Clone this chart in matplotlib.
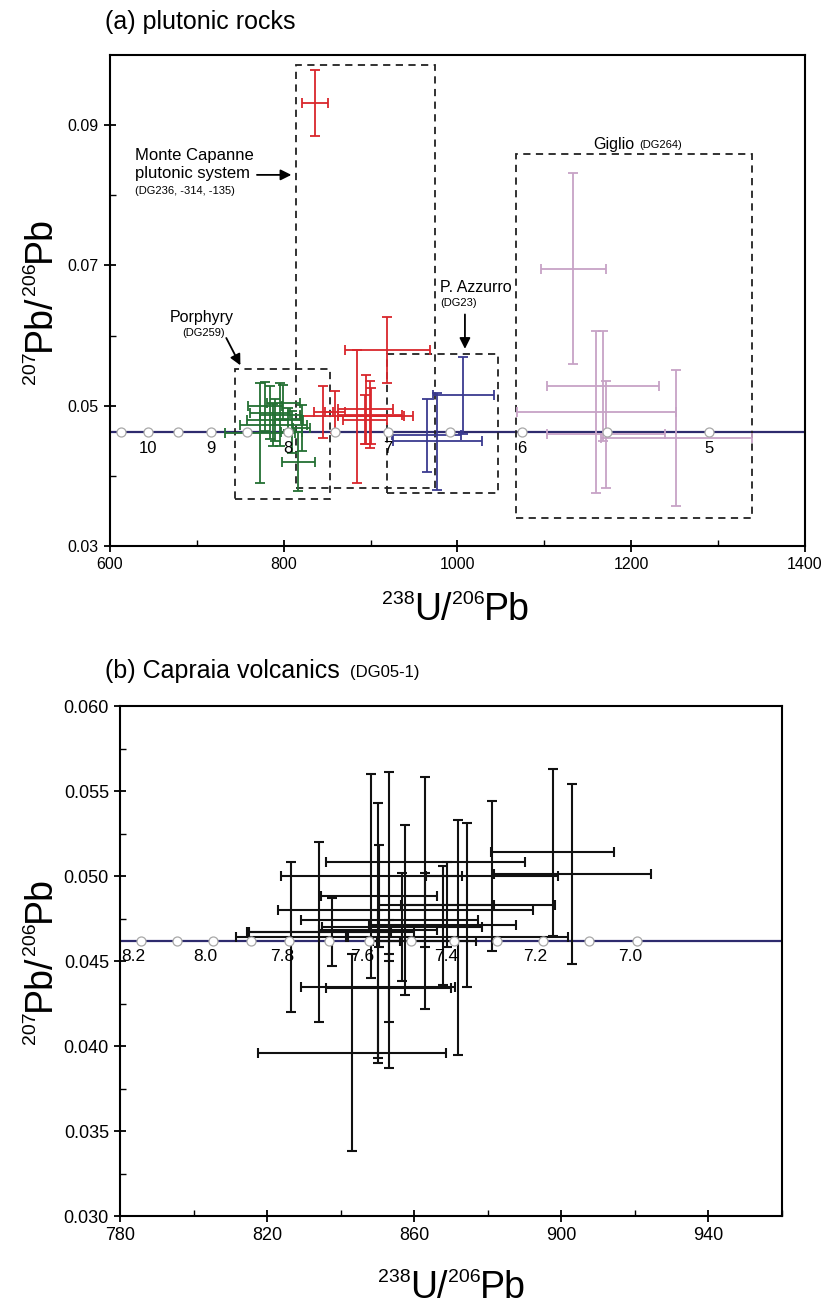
import matplotlib
matplotlib.use('Agg')
import matplotlib.pyplot as plt
from matplotlib.patches import Rectangle
from matplotlib.ticker import MultipleLocator, FixedLocator, FormatStrFormatter

plt.rcParams['font.family'] = ['Liberation Sans', 'DejaVu Sans']

# ---------------- datos panel (a) ----------------
red_x = [836.4, 884.0, 919.4, 845.5, 859.0, 894.4, 899.3, 893.5, 900.8]
red_xe = [15.0, 65.0, 48.9, 11.0, 12.0, 31.6, 37.0, 25.0, 37.9]
red_y = [0.0932, 0.0485, 0.0579, 0.0491, 0.0491, 0.0495, 0.0487, 0.0480, 0.0485]
red_ye = [0.0047, 0.0095, 0.0047, 0.0037, 0.0030, 0.0049, 0.0048, 0.0035, 0.0040]

green_x = [772.7, 778.4, 784.2, 789.9, 795.7, 799.5, 788.0, 805.3, 809.1, 816.8, 820.6]
green_xe = [40.3, 20.0, 23.0, 32.6, 23.0, 19.0, 38.4, 15.0, 12.0, 19.2, 10.0]
green_y = [0.0461, 0.0499, 0.0490, 0.0480, 0.0487, 0.0504, 0.0473, 0.0481, 0.0462, 0.0420, 0.0468]
green_ye = [0.0071, 0.0035, 0.0038, 0.0030, 0.0045, 0.0025, 0.0030, 0.0015, 0.0030, 0.0042, 0.0033]

blue_x = [1006.8, 964.5, 977.0]
blue_xe = [35.3, 40.0, 51.0]
blue_y = [0.0515, 0.0458, 0.0449]
blue_ye = [0.0055, 0.0052, 0.0069]

giglio_x = [1133.5, 1159.6, 1170.8, 1167.5, 1252.0]
giglio_xe = [37.4, 91.5, 68.0, 64.8, 86.8]
giglio_y = [0.0695, 0.0491, 0.0459, 0.0528, 0.0454]
giglio_ye = [0.0136, 0.0116, 0.0076, 0.0079, 0.0097]

# cajas punteadas (x0, x1, y0, y1)
box_mc = [814, 974, 0.0382, 0.0986]
box_porph = [744, 853, 0.0367, 0.0552]
box_azz = [918.5, 1047, 0.0376, 0.0574]
box_giglio = [1067, 1339.5, 0.0340, 0.0859]

# concordia (edades cada 0.5 Ma, 10.5 -> 5)
conc_y = 0.0462
conc_a_x = [613, 644, 678, 716, 758, 805, 859, 920, 991, 1074, 1172, 1289]
conc_a_lab = ['', '10', '', '9', '', '8', '', '7', '', '6', '', '5']

# ---------------- datos panel (b) ----------------
b_x = [826.4, 834.1, 848.3, 853.2, 850.1, 843.0, 857.6, 862.8, 856.6, 850.2, 867.7,
       871.9, 863.0, 874.3, 881.2, 897.6, 903.0, 850.4, 837.5, 853.0, 869.0, 853.0]
b_xe = [15.0, 19.5, 24.6, 24.0, 16.0, 25.6, 34.7, 14.0, 21.7, 21.0, 20.0,
        30.0, 27.0, 24.0, 18.0, 16.8, 21.4, 15.7, 22.5, 3.0, 12.6, 17.0]
b_y = [0.0464, 0.0467, 0.0500, 0.0474, 0.0468, 0.0396, 0.0480, 0.0462, 0.0470, 0.0435, 0.0471,
       0.0464, 0.0508, 0.0483, 0.0500, 0.0514, 0.0501, 0.0488, 0.0467, 0.0462, 0.0483, 0.0434]
b_ye = [0.0044, 0.0053, 0.0060, 0.0087, 0.0075, 0.0058, 0.0050, 0.0040, 0.0032, 0.0045, 0.0035,
        0.0069, 0.0050, 0.0048, 0.0044, 0.0049, 0.0053, 0.0030, 0.0020, 0.0012, 0.0025, 0.0020]

conc_b_x = [785.6, 795.4, 805.2, 815.5, 826.0, 836.8, 847.8, 859.1, 870.7, 882.6, 894.9, 907.5, 920.5]
conc_b_lab = ['8.2', '', '8.0', '', '7.8', '', '7.6', '', '7.4', '', '7.2', '', '7.0']

line_col = '#2e2b6e'
FW, FH = 825, 1308
BIG, SUP = 27, 14
xlab_parts = [('238', True), ('U/', False), ('206', True), ('Pb', False)]
ylab_parts = [('207', True), ('Pb/', False), ('206', True), ('Pb', False)]


def etiqueta(fig, cx, cy_top, parts, rot):
    # etiqueta con superindices pequeños, centrada en (cx, cy_top) en pixeles
    r = fig.canvas.get_renderer()
    ws = []
    for txt, sup in parts:
        t = fig.text(0, 0, txt, fontsize=SUP if sup else BIG)
        ws.append(t.get_window_extent(r).width)
        t.remove()
    big_px = BIG * 100 / 72.0
    cy = FH - cy_top
    if rot == 0:
        d, n = (1, 0), (0, 1)
    else:
        d, n = (0, 1), (-1, 0)
    pos = -sum(ws) / 2
    for (txt, sup), w in zip(parts, ws):
        off = -0.36 * big_px + (0.4 * big_px if sup else 0)
        px = cx + d[0] * pos + n[0] * off
        py = cy + d[1] * pos + n[1] * off
        fig.text(px / FW, py / FH, txt, fontsize=SUP if sup else BIG, rotation=rot,
                 rotation_mode='anchor', ha='left', va='baseline')
        pos += w


def estilo_ejes(ax, lsize):
    for s in ax.spines.values():
        s.set_linewidth(1.5)
    ax.tick_params(which='major', direction='inout', length=9, width=1.3, labelsize=lsize)
    ax.tick_params(which='minor', direction='in', length=4, width=1.0)


def concordia(ax, xs, labs, off, fsize):
    ax.axhline(conc_y, color=line_col, lw=1.6, zorder=1)
    ax.plot(xs, [conc_y] * len(xs), 'o', ms=6.5, mfc='white', mec='#a8a8a8', mew=0.9, zorder=4)
    for x, t in zip(xs, labs):
        if t:
            ax.annotate(t, (x, conc_y), xytext=off, textcoords='offset points',
                        ha='center', va='top', fontsize=fsize, zorder=5)


def caja(ax, b):
    ax.add_patch(Rectangle((b[0], b[2]), b[1] - b[0], b[3] - b[2], fill=False,
                           ec='#222222', lw=1.3, ls=(0, (4, 3)), zorder=2))


fig = plt.figure(figsize=(8.25, 13.08), dpi=100)

# ---------------- panel (a) ----------------
ax1 = fig.add_axes([0.1333, 0.5826, 0.8424, 0.3754])
ax1.set_xlim(600, 1400)
ax1.set_ylim(0.03, 0.10)
ax1.xaxis.set_major_locator(MultipleLocator(200))
ax1.xaxis.set_minor_locator(MultipleLocator(100))
ax1.yaxis.set_major_locator(FixedLocator([0.03, 0.05, 0.07, 0.09]))
ax1.yaxis.set_minor_locator(FixedLocator([0.04, 0.06, 0.08]))
ax1.yaxis.set_major_formatter(FormatStrFormatter('%.2f'))
estilo_ejes(ax1, 11.5)

concordia(ax1, conc_a_x, conc_a_lab, (0, -6), 12)

for b in [box_mc, box_porph, box_azz, box_giglio]:
    caja(ax1, b)

kw = dict(fmt='none', capsize=3.5, elinewidth=1.3, capthick=1.3, zorder=3)
ax1.errorbar(giglio_x, giglio_y, xerr=giglio_xe, yerr=giglio_ye, ecolor='#c7a3c6', **kw)
ax1.errorbar(blue_x, blue_y, xerr=blue_xe, yerr=blue_ye, ecolor='#3a3a90', **kw)
ax1.errorbar(red_x, red_y, xerr=red_xe, yerr=red_ye, ecolor='#d9262c', **kw)
ax1.errorbar(green_x, green_y, xerr=green_xe, yerr=green_ye, ecolor='#237033', **kw)

# textos y flechas
ax1.text(629, 0.0856, 'Monte Capanne', fontsize=12, va='center')
ax1.text(629, 0.0831, 'plutonic system', fontsize=12, va='center')
ax1.text(629, 0.0806, '(DG236, -314, -135)', fontsize=8, va='center')
ax1.annotate('', xy=(812, 0.0829), xytext=(766, 0.0829),
             arrowprops=dict(arrowstyle='-|>', color='black', lw=1.3, mutation_scale=16))

ax1.text(1204, 0.0873, 'Giglio', fontsize=11.5, ha='right', va='center')
ax1.text(1209, 0.0872, '(DG264)', fontsize=8, ha='left', va='center')

ax1.text(980, 0.0668, 'P. Azzurro', fontsize=11.5, va='center')
ax1.text(980, 0.0647, '(DG23)', fontsize=8, va='center')
ax1.annotate('', xy=(1008.6, 0.0577), xytext=(1008.6, 0.0634),
             arrowprops=dict(arrowstyle='-|>', color='black', lw=1.3, mutation_scale=16))

ax1.text(706, 0.0625, 'Porphyry', fontsize=11.5, ha='center', va='center')
ax1.text(708, 0.0604, '(DG259)', fontsize=8, ha='center', va='center')
ax1.annotate('', xy=(751.6, 0.0554), xytext=(732.4, 0.0600),
             arrowprops=dict(arrowstyle='-|>', color='black', lw=1.3, mutation_scale=16))

fig.text(0.127, 0.983, '(a) plutonic rocks', fontsize=18, va='center')

# ---------------- panel (b) ----------------
ax2 = fig.add_axes([0.1455, 0.0703, 0.8024, 0.3899])
ax2.set_xlim(780, 960)
ax2.set_ylim(0.030, 0.060)
ax2.xaxis.set_major_locator(FixedLocator([780, 820, 860, 900, 940]))
ax2.xaxis.set_minor_locator(MultipleLocator(20))
ax2.yaxis.set_major_locator(MultipleLocator(0.005))
ax2.yaxis.set_minor_locator(MultipleLocator(0.0025))
ax2.yaxis.set_major_formatter(FormatStrFormatter('%.3f'))
estilo_ejes(ax2, 13)

concordia(ax2, conc_b_x, conc_b_lab, (-5, -6), 12.5)

ax2.errorbar(b_x, b_y, xerr=b_xe, yerr=b_ye, fmt='none', ecolor='#111111',
             capsize=3.5, elinewidth=1.5, capthick=1.5, zorder=3)

fig.text(0.127, 0.487, '(b) Capraia volcanics', fontsize=18, va='center')
fig.text(0.424, 0.486, '(DG05-1)', fontsize=12, va='center')

# etiquetas de ejes con superindices
etiqueta(fig, 456, 606, xlab_parts, 0)
etiqueta(fig, 36, 300, ylab_parts, 90)
etiqueta(fig, 452, 1284, xlab_parts, 0)
etiqueta(fig, 36, 960, ylab_parts, 90)

fig.savefig('out.png', dpi=100)
